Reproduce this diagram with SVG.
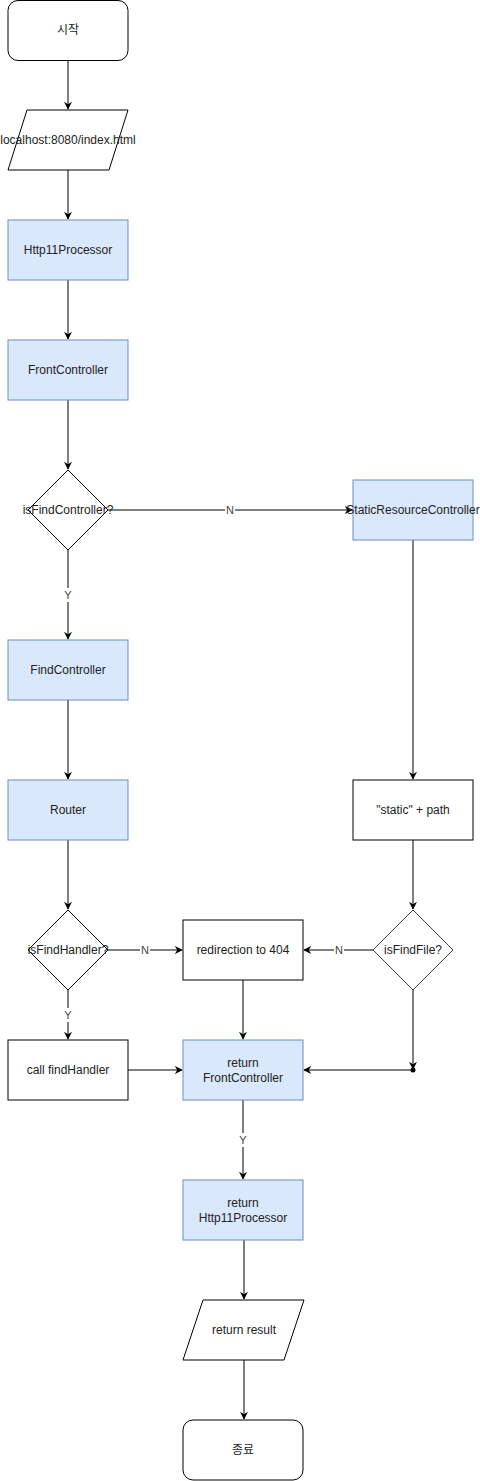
<svg xmlns="http://www.w3.org/2000/svg" width="480" height="1481" viewBox="0 0 480 1481">
<style>
.n{fill:#fff;stroke:#000;stroke-width:1}
.b{fill:#dae8fc;stroke:#6c8ebf;stroke-width:1}
.t{font-family:"Liberation Sans","Noto Sans CJK KR",sans-serif;font-size:12px;fill:#222;text-anchor:middle;dominant-baseline:central}
.e{fill:none;stroke:#000;stroke-width:1}
.l{font-family:"Liberation Sans",sans-serif;font-size:11px;fill:#444;text-anchor:middle;dominant-baseline:central}
.lb{fill:#fff}
</style>
<defs>
<marker id="a" viewBox="0 0 10 10" refX="9" refY="5" markerWidth="8" markerHeight="8" markerUnits="userSpaceOnUse" orient="auto">
<path d="M0,0 L10,5 L0,10 L3,5 Z" fill="#000"/>
</marker>
</defs>
<g id="connectors">
<path class="e" d="M68,60 V109" marker-end="url(#a)"/>
<path class="e" d="M68,170 V219" marker-end="url(#a)"/>
<path class="e" d="M68,280 V339" marker-end="url(#a)"/>
<path class="e" d="M68,400 V469" marker-end="url(#a)"/>
<path class="e" d="M108,510 H352" marker-end="url(#a)"/>
<rect class="lb" x="225" y="503" width="10" height="14"/>
<text class="l" x="230" y="510">N</text>
<path class="e" d="M68,550 V639" marker-end="url(#a)"/>
<rect class="lb" x="62" y="588" width="12" height="14"/>
<text class="l" x="68" y="595">Y</text>
<path class="e" d="M68,700 V779" marker-end="url(#a)"/>
<path class="e" d="M68,840 V909" marker-end="url(#a)"/>
<path class="e" d="M108,950 H182" marker-end="url(#a)"/>
<rect class="lb" x="140" y="943" width="10" height="14"/>
<text class="l" x="145" y="950">N</text>
<path class="e" d="M68,990 V1039" marker-end="url(#a)"/>
<rect class="lb" x="62" y="1008" width="12" height="14"/>
<text class="l" x="68" y="1015">Y</text>
<path class="e" d="M128,1070 H182" marker-end="url(#a)"/>
<path class="e" d="M243,980 V1039" marker-end="url(#a)"/>
<path class="e" d="M413,540 V779" marker-end="url(#a)"/>
<path class="e" d="M413,840 V909" marker-end="url(#a)"/>
<path class="e" d="M373,950 H304" marker-end="url(#a)"/>
<rect class="lb" x="334" y="943" width="10" height="14"/>
<text class="l" x="339" y="950">N</text>
<path class="e" d="M413,990 V1069" stroke="#444" marker-end="url(#a)"/>
<circle cx="413" cy="1070" r="2.5" fill="#000"/>
<path class="e" d="M413,1070 H304" marker-end="url(#a)"/>
<path class="e" d="M243,1100 V1179" marker-end="url(#a)"/>
<rect class="lb" x="237" y="1133" width="12" height="14"/>
<text class="l" x="243" y="1140">Y</text>
<path class="e" d="M244,1240 V1299" marker-end="url(#a)"/>
<path class="e" d="M244,1360 V1419" stroke="#444" marker-end="url(#a)"/>
</g>
<g id="start"><rect class="n" x="8" y="0.5" width="120" height="60" rx="10"/><text class="t" x="68" y="30">시작</text></g>
<g id="input"><polygon class="n" points="27,110 128,110 109,170 8,170"/><text class="t" x="68" y="140">localhost:8080/index.html</text></g>
<g id="http11processor"><rect class="b" x="8" y="220" width="120" height="60"/><text class="t" x="68" y="250">Http11Processor</text></g>
<g id="frontcontroller"><rect class="b" x="8" y="340" width="120" height="60"/><text class="t" x="68" y="370">FrontController</text></g>
<g id="isfindcontroller"><polygon class="n" points="68,470 108,510 68,550 28,510"/><text class="t" x="68" y="510">isFindController?</text></g>
<g id="staticresourcecontroller"><rect class="b" x="353" y="480" width="120" height="60"/><text class="t" x="413" y="510">StaticResourceController</text></g>
<g id="findcontroller"><rect class="b" x="8" y="640" width="120" height="60"/><text class="t" x="68" y="670">FindController</text></g>
<g id="router"><rect class="b" x="8" y="780" width="120" height="60"/><text class="t" x="68" y="810">Router</text></g>
<g id="staticpath"><rect class="n" x="353" y="780" width="120" height="60"/><text class="t" x="413" y="810">"static" + path</text></g>
<g id="isfindhandler"><polygon class="n" points="68,910 108,950 68,990 28,950"/><text class="t" x="68" y="950">isFindHandler?</text></g>
<g id="redirection"><rect class="n" x="183" y="920" width="120" height="60"/><text class="t" x="243" y="950">redirection to 404</text></g>
<g id="isfindfile"><polygon class="n" points="413,910 453,950 413,990 373,950" style="stroke:#444"/><text class="t" x="413" y="950">isFindFile?</text></g>
<g id="callfindhandler"><rect class="n" x="8" y="1040" width="120" height="60"/><text class="t" x="68" y="1070">call findHandler</text></g>
<g id="returnfrontcontroller"><rect class="b" x="183" y="1040" width="120" height="60"/><text class="t" x="243" y="1063">return</text><text class="t" x="243" y="1078">FrontController</text></g>
<g id="returnhttp11processor"><rect class="b" x="183" y="1180" width="120" height="60"/><text class="t" x="243" y="1203">return</text><text class="t" x="243" y="1218">Http11Processor</text></g>
<g id="returnresult"><polygon class="n" points="203,1300 304,1300 284,1360 183,1360"/><text class="t" x="244" y="1330">return result</text></g>
<g id="end"><rect class="n" x="183" y="1420" width="120" height="60" rx="10"/><text class="t" x="243" y="1450">종료</text></g>
</svg>
